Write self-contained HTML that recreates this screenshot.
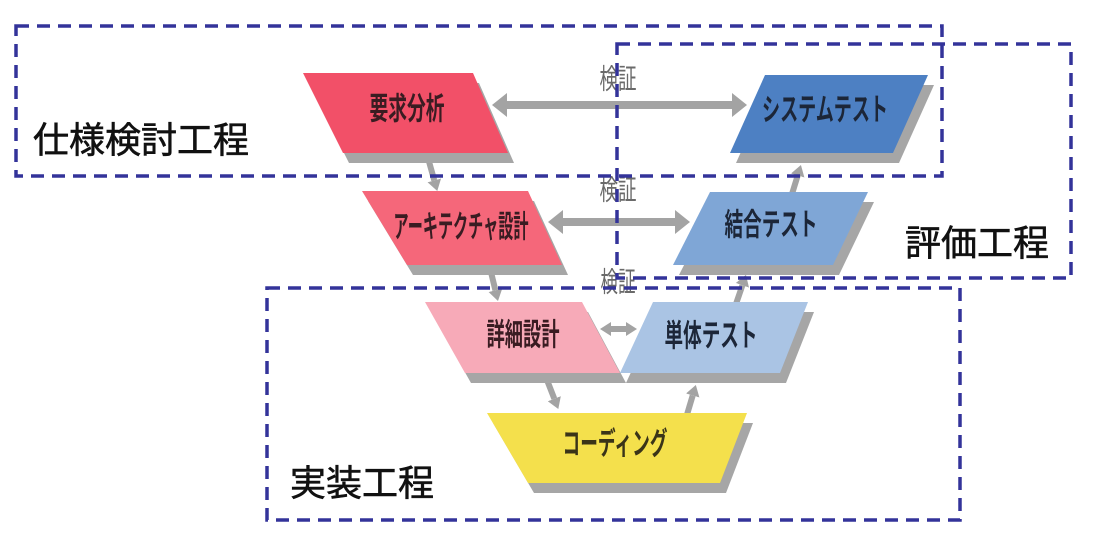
<!DOCTYPE html>
<html><head><meta charset="utf-8"><style>
html,body{margin:0;padding:0;background:#fff;}
svg{display:block;}
</style></head><body>
<svg width="1108" height="550" viewBox="0 0 1108 550" xmlns="http://www.w3.org/2000/svg">
<defs>
<marker id="hb" markerUnits="userSpaceOnUse" markerWidth="20" markerHeight="28" refX="0" refY="13" orient="auto-start-reverse">
<path d="M0,1 L15,13 L0,25 z" fill="#a3a3a3"/>
</marker>
<marker id="hs" markerUnits="userSpaceOnUse" markerWidth="14" markerHeight="18" refX="0" refY="8" orient="auto-start-reverse">
<path d="M0,1 L11,8 L0,15 z" fill="#a3a3a3"/>
</marker>
</defs>
<rect width="1108" height="550" fill="#fff"/>

<g stroke="#a3a3a3" fill="none">
<line x1="507" y1="105" x2="732" y2="105" stroke-width="8" marker-start="url(#hb)" marker-end="url(#hb)"/>
<line x1="563" y1="222" x2="675" y2="222" stroke-width="8" marker-start="url(#hb)" marker-end="url(#hb)"/>
<line x1="611" y1="329" x2="626" y2="329" stroke-width="6" marker-start="url(#hs)" marker-end="url(#hs)"/>
<line x1="428" y1="158" x2="434.3" y2="180.4" stroke-width="6" marker-end="url(#hs)"/>
<line x1="490" y1="268" x2="495.4" y2="290.3" stroke-width="6" marker-end="url(#hs)"/>
<line x1="547" y1="380" x2="554.3" y2="398.7" stroke-width="6" marker-end="url(#hs)"/>
<line x1="686" y1="418" x2="692.7" y2="395.5" stroke-width="6" marker-end="url(#hs)"/>
<line x1="736" y1="304" x2="742.4" y2="285.3" stroke-width="6" marker-end="url(#hs)"/>
<line x1="792" y1="194" x2="797.7" y2="175.5" stroke-width="6" marker-end="url(#hs)"/>
</g>

<g fill="#a6a6a6">
<polygon points="309,83 479,83 514,163 349,163"/>
<polygon points="368,201 534,201 568,275 413,275"/>
<polygon points="431,312 588,312 626,383 471,383"/>
<polygon points="771,85 934,85 899,163 736,163"/>
<polygon points="716,202 874,202 839,275 679,275"/>
<polygon points="659,312 814,312 786,383 626,383"/>
<polygon points="493,423 753,423 726,493 534,493"/>
</g>

<polygon points="303,73 473,73 508,153 343,153" fill="#f25068"/>
<polygon points="362,191 528,191 562,265 407,265" fill="#f5677a"/>
<polygon points="425,302 582,302 620,373 465,373" fill="#f7aab8"/>
<polygon points="765,75 928,75 893,153 730,153" fill="#4d80c3"/>
<polygon points="710,192 868,192 833,265 673,265" fill="#7fa6d6"/>
<polygon points="653,302 808,302 780,373 620,373" fill="#aac4e4"/>
<polygon points="487,413 747,413 720,483 528,483" fill="#f4e04c"/>

<g font-family="'Liberation Sans','Noto Sans CJK JP',sans-serif" font-weight="bold" font-size="31" text-anchor="middle" dominant-baseline="central">
<text x="407" y="109" fill="#3a1c22" textLength="75" lengthAdjust="spacingAndGlyphs">要求分析</text>
<text x="461" y="227" fill="#3a1c22" textLength="135" lengthAdjust="spacingAndGlyphs">アーキテクチャ設計</text>
<text x="523" y="335" fill="#3a1c22" textLength="73" lengthAdjust="spacingAndGlyphs">詳細設計</text>
<text x="825" y="110" fill="#1c2638" textLength="126" lengthAdjust="spacingAndGlyphs">システムテスト</text>
<text x="771" y="225" fill="#1c2638" textLength="93" lengthAdjust="spacingAndGlyphs">結合テスト</text>
<text x="711" y="336" fill="#1c2638" textLength="93" lengthAdjust="spacingAndGlyphs">単体テスト</text>
<text x="615" y="444" fill="#3a3418" textLength="105" lengthAdjust="spacingAndGlyphs">コーディング</text>
</g>

<g font-family="'Liberation Sans','Noto Sans CJK JP',sans-serif" font-size="28" fill="#6a6a6a" text-anchor="middle" dominant-baseline="central">
<text x="618" y="79" textLength="37" lengthAdjust="spacingAndGlyphs">検証</text>
<text x="618" y="190" textLength="37" lengthAdjust="spacingAndGlyphs">検証</text>
<text x="618" y="282" textLength="35" lengthAdjust="spacingAndGlyphs">検証</text>
</g>

<g fill="none" stroke="#33339a" stroke-width="3.5" stroke-dasharray="13 8">
<rect x="16" y="26" width="926" height="150"/>
<rect x="617" y="44" width="454" height="234"/>
<rect x="267" y="288" width="693" height="232"/>
</g>

<g font-family="'Liberation Sans','Noto Sans CJK JP',sans-serif" font-size="36" fill="#111" stroke="#111" stroke-width="0.6" dominant-baseline="central">
<text x="33" y="140">仕様検討工程</text>
<text x="905" y="243">評価工程</text>
<text x="290" y="483">実装工程</text>
</g>
</svg>
</body></html>
